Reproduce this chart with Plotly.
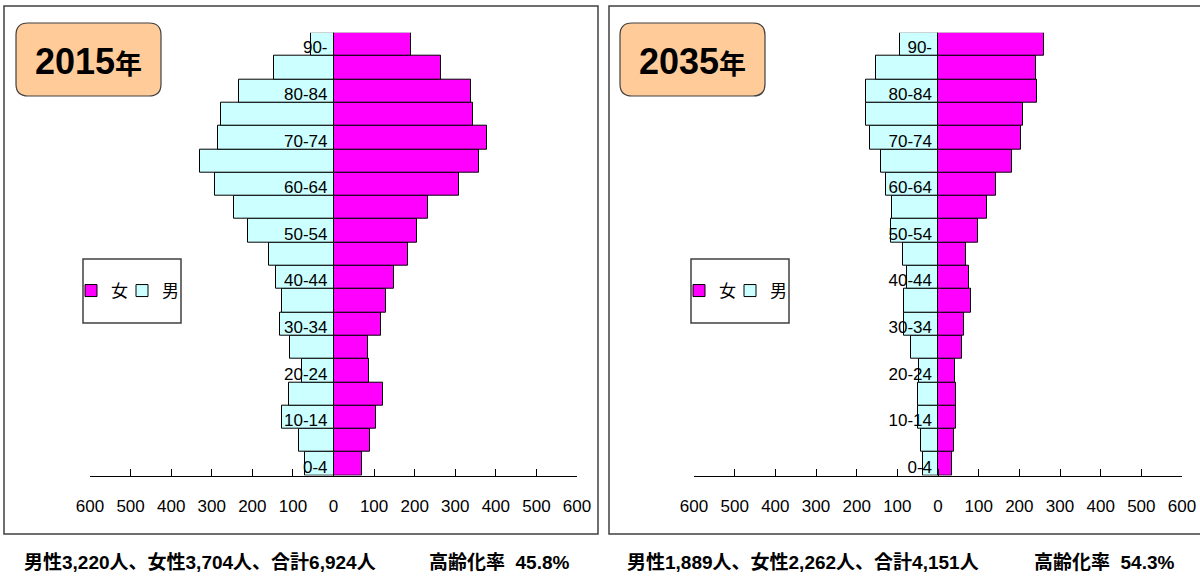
import plotly.graph_objects as go

W, H = 1200, 581

ages = ["0-4", "5-9", "10-14", "15-19", "20-24", "25-29", "30-34", "35-39", "40-44",
        "45-49", "50-54", "55-59", "60-64", "65-69", "70-74", "75-79", "80-84", "85-89", "90-"]

male_2015 = [71, 86, 126, 110, 77, 106, 133, 128, 142, 160, 210, 245, 293, 328, 285, 276, 232, 147, 55]
female_2015 = [71, 90, 105, 121, 87, 84, 116, 130, 148, 184, 205, 232, 309, 358, 379, 344, 339, 264, 190]
male_2035 = [37, 41, 48, 48, 47, 66, 84, 84, 76, 86, 116, 112, 128, 140, 168, 178, 178, 153, 94]
female_2035 = [35, 40, 45, 45, 42, 58, 65, 82, 77, 68, 98, 121, 142, 182, 203, 210, 243, 240, 261]

tick_vals = [-600, -500, -400, -300, -200, -100, 0, 100, 200, 300, 400, 500, 600]
tick_text = [str(abs(v)) for v in tick_vals]

years = ["2015", "2035"]
summaries = ["男性3,220人、女性3,704人、合計6,924人", "男性1,889人、女性2,262人、合計4,151人"]
aging = ["高齢化率  45.8%", "高齢化率  54.3%"]

FEMALE = "#FF00FF"
MALE = "#CCFFFF"
NUM = "Liberation Sans, Arial, Noto Sans CJK JP, sans-serif"
CJK = "Noto Sans CJK JP, sans-serif"


def px(x):
    return x / W


def py(y):
    return 1 - y / H


def rounded_rect(x0, y0, x1, y1, r):
    rx, ry = r / W, r / H
    a0, b0, a1, b1 = px(x0), py(y0), px(x1), py(y1)
    return (f"M{a0 + rx},{b0} L{a1 - rx},{b0} Q{a1},{b0} {a1},{b0 - ry} "
            f"L{a1},{b1 + ry} Q{a1},{b1} {a1 - rx},{b1} "
            f"L{a0 + rx},{b1} Q{a0},{b1} {a0},{b1 + ry} "
            f"L{a0},{b0 - ry} Q{a0},{b0} {a0 + rx},{b0} Z")


# panel geometry (pixels)
panels = [
    dict(ax0=90, ax1=577, box=(4, 6, 598, 534), title=(16, 23, 161, 96),
         legend=(83, 259, 181, 323), text_x=(22, 427)),
    dict(ax0=694, ax1=1182, box=(609, 6, 1203, 534), title=(620, 23, 765, 96),
         legend=(691, 259, 789, 323), text_x=(625, 1032)),
]
plot_top, plot_bottom = 32.7, 475.5

fig = go.Figure()
data = [(female_2015, male_2015), (female_2035, male_2035)]
shapes, annotations = [], []

for i, (p, (fem, mal)) in enumerate(zip(panels, data)):
    sfx = "" if i == 0 else "2"
    xa, ya = "x" + sfx, "y" + sfx
    # one single-entry legend per series, so each entry can sit inside the frame
    lg_f = "legend" if i == 0 else "legend3"
    lg_m = "legend2" if i == 0 else "legend4"
    fig.add_trace(go.Bar(
        y=ages, x=fem, orientation="h", name="女", xaxis=xa, yaxis=ya, legend=lg_f,
        marker=dict(color=FEMALE, line=dict(color="#000000", width=1)),
    ))
    fig.add_trace(go.Bar(
        y=ages, x=[-v for v in mal], orientation="h", name="男", xaxis=xa, yaxis=ya, legend=lg_m,
        marker=dict(color=MALE, line=dict(color="#000000", width=1)),
    ))
    zero_paper = px((p["ax0"] + p["ax1"]) / 2)
    lx0, ly0, lx1, ly1 = p["legend"]
    legend_style = dict(
        y=py((ly0 + ly1) / 2), xanchor="left", yanchor="middle", orientation="h",
        bgcolor="rgba(0,0,0,0)", borderwidth=0,
        font=dict(family=CJK, size=17, color="#000000"), itemwidth=30,
    )
    fig.update_layout(**{
        "xaxis" + sfx: dict(
            domain=[px(p["ax0"]), px(p["ax1"])], range=[-600, 600], anchor=ya,
            showline=True, linecolor="#000000", linewidth=1,
            ticks="inside", ticklen=7, tickcolor="#000000", tickwidth=1,
            tickvals=tick_vals, ticktext=tick_text, showgrid=False, zeroline=False,
            tickfont=dict(family=NUM, size=17, color="#000000"),
            ticklabelstandoff=15, fixedrange=True, automargin=False,
        ),
        "yaxis" + sfx: dict(
            domain=[py(plot_bottom), py(plot_top)], type="category",
            range=[-0.5, len(ages) - 0.5], anchor="free", position=zero_paper,
            showline=False, ticks="", showgrid=False, zeroline=False,
            tickvals=ages[::2], tickfont=dict(family=NUM, size=17, color="#000000"),
            ticklabelstandoff=6, ticklabelshift=3, fixedrange=True, automargin=False,
        ),
        lg_f: dict(x=px(lx0 + 2 - 14), **legend_style),
        lg_m: dict(x=px(lx0 + 53 - 14), **legend_style),
    })

    bx0, by0, bx1, by1 = p["box"]
    shapes.append(dict(type="rect", xref="paper", yref="paper", layer="below",
                       x0=px(bx0), y0=py(by0), x1=px(bx1), y1=py(by1),
                       line=dict(color="#404040", width=1.5), fillcolor="rgba(0,0,0,0)"))
    shapes.append(dict(type="rect", xref="paper", yref="paper", layer="below",
                       x0=px(lx0), y0=py(ly0), x1=px(lx1), y1=py(ly1),
                       line=dict(color="#404040", width=1.5), fillcolor="#FFFFFF"))
    tx0, ty0, tx1, ty1 = p["title"]
    shapes.append(dict(type="path", xref="paper", yref="paper", layer="below",
                       path=rounded_rect(tx0, ty0, tx1, ty1, 12),
                       line=dict(color="#404040", width=1.2), fillcolor="#FFCC99"))
    annotations.append(dict(
        xref="paper", yref="paper", x=px((tx0 + tx1) / 2), y=py((ty0 + ty1) / 2 + 2),
        xanchor="center", yanchor="middle", showarrow=False,
        text=years[i] + '<span style="font-family:Noto Sans CJK JP;font-size:27px">年</span>',
        font=dict(family=NUM, size=36, color="#000000", weight="bold"),
    ))
    annotations.append(dict(
        xref="paper", yref="paper", x=px(p["text_x"][0]), y=py(562),
        xanchor="left", yanchor="middle", showarrow=False, text=summaries[i],
        font=dict(family=NUM, size=19, color="#000000", weight="bold"),
    ))
    annotations.append(dict(
        xref="paper", yref="paper", x=px(p["text_x"][1]), y=py(562),
        xanchor="left", yanchor="middle", showarrow=False, text=aging[i],
        font=dict(family=NUM, size=19, color="#000000", weight="bold"),
    ))

fig.update_layout(
    width=W, height=H, autosize=False,
    margin=dict(l=0, r=0, t=0, b=0, pad=0, autoexpand=False),
    paper_bgcolor="#FFFFFF", plot_bgcolor="rgba(0,0,0,0)",
    barmode="overlay", bargap=0, showlegend=True,
    shapes=shapes, annotations=annotations,
)

fig.write_html("out.html")
